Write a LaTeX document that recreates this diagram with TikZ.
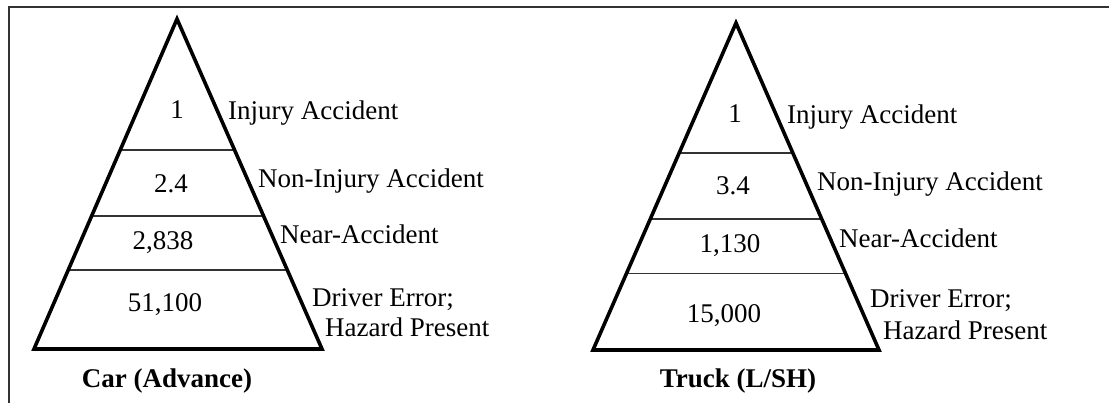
\documentclass[tikz,border=0pt]{standalone}
\usepackage{fontspec}
\setmainfont{Liberation Serif}
\usetikzlibrary{calc}

\begin{document}
\begin{tikzpicture}[x=1pt, y=-1pt,
    pyr/.style={line width=3.6pt, line join=miter},
    tier/.style={line width=1.3pt, black!80},
    num/.style={anchor=base, inner sep=0pt, font=\fontsize{27}{30}\selectfont},
    lbl/.style={anchor=base west, inner sep=0pt, align=left,
                font=\fontsize{27}{30}\selectfont},
    pyrtitle/.style={anchor=base, inner sep=0pt, font=\fontsize{27}{30}\selectfont\bfseries}]
  \useasboundingbox (0,0) rectangle (1109,403);

  % Frame (top and left only)
  \draw[line width=1.3pt, black!80] (9,403) -- (9,7) -- (1109,7);

  % Car pyramid
  \coordinate (CT) at (177,19);
  \coordinate (CL) at (34,349);
  \coordinate (CR) at (322,349);
  \draw[tier] ($(CT)!0.397!(CL)$) -- ($(CT)!0.397!(CR)$);
  \draw[tier] ($(CT)!0.597!(CL)$) -- ($(CT)!0.597!(CR)$);
  \draw[tier] ($(CT)!0.761!(CL)$) -- ($(CT)!0.761!(CR)$);
  \draw[pyr] (CT) -- (CL) -- (CR) -- cycle;

  \node[num] (c1) at (177,119) {1};
  \node[num] (c2) at (171,193) {2.4};
  \node[num] (c3) at (163,250) {2,838};
  \node[num] (c4) at (165,312) {51,100};

  \node[lbl] (cl1) at (228,120) {Injury Accident};
  \node[lbl] (cl2) at (258,188) {Non-Injury Accident};
  \node[lbl] (cl3) at (280,244) {Near-Accident};
  \node[lbl] (cl4a) at (312,307) {Driver Error;};
  \node[lbl] (cl4b) at (325,337) {Hazard Present};

  \node[pyrtitle] (ctitle) at (167,388) {Car (Advance)};

  % Truck pyramid
  \coordinate (TT) at (736,23);
  \coordinate (TL) at (593,350);
  \coordinate (TR) at (879,350);
  \draw[tier] ($(TT)!0.398!(TL)$) -- ($(TT)!0.398!(TR)$);
  \draw[tier] ($(TT)!0.599!(TL)$) -- ($(TT)!0.599!(TR)$);
  \draw[tier] ($(TT)!0.765!(TL)$) -- ($(TT)!0.765!(TR)$);
  \draw[pyr] (TT) -- (TL) -- (TR) -- cycle;

  \node[num] (t1) at (735,123) {1};
  \node[num] (t2) at (733,195) {3.4};
  \node[num] (t3) at (730,253) {1,130};
  \node[num] (t4) at (724,323) {15,000};

  \node[lbl] (tl1) at (787,124) {Injury Accident};
  \node[lbl] (tl2) at (817,191) {Non-Injury Accident};
  \node[lbl] (tl3) at (839,248) {Near-Accident};
  \node[lbl] (tl4a) at (870,308) {Driver Error;};
  \node[lbl] (tl4b) at (883,340) {Hazard Present};

  \node[pyrtitle] (ttitle) at (738,388) {Truck (L/SH)};
\end{tikzpicture}
\end{document}
